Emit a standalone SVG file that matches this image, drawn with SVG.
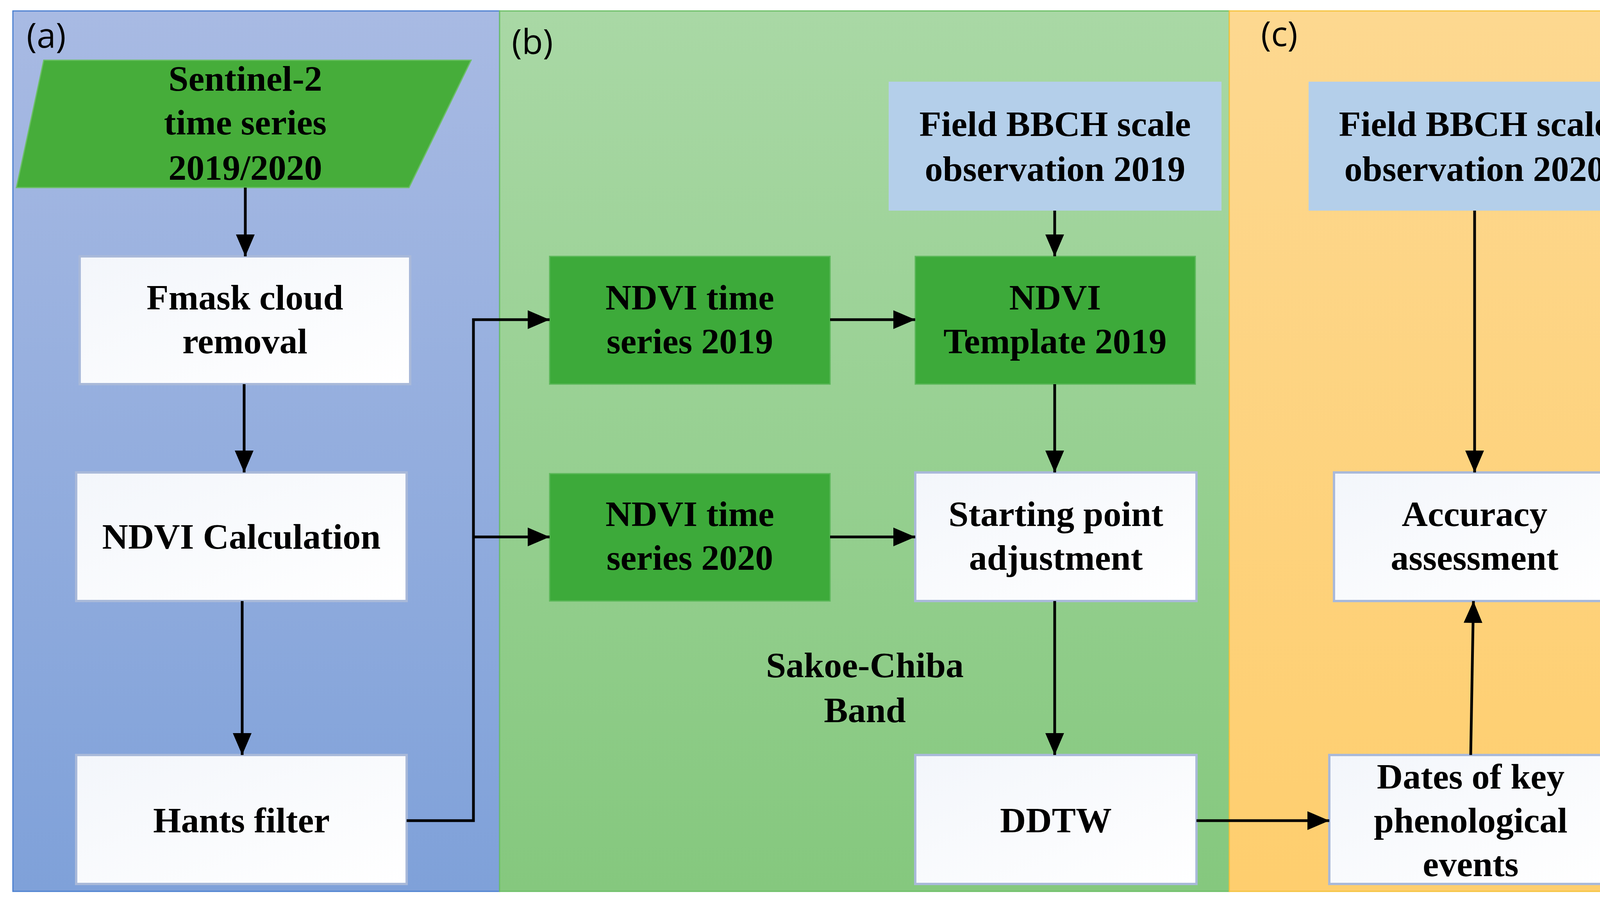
<svg xmlns="http://www.w3.org/2000/svg" width="4364" height="2321" viewBox="0 0 4364 2321">
<defs>
<linearGradient id="ga" x1="0" y1="0" x2="0" y2="1"><stop offset="0" stop-color="#a8bae3"/><stop offset="1" stop-color="#7fa1d9"/></linearGradient>
<linearGradient id="gb" x1="0" y1="0" x2="0" y2="1"><stop offset="0" stop-color="#a9d8a5"/><stop offset="1" stop-color="#85c87e"/></linearGradient>
<linearGradient id="gc" x1="0" y1="0" x2="0" y2="1"><stop offset="0" stop-color="#fdd890"/><stop offset="1" stop-color="#fece6e"/></linearGradient>
<linearGradient id="gw" x1="0" y1="0" x2="1" y2="1"><stop offset="0" stop-color="#f3f6fb"/><stop offset="1" stop-color="#ffffff"/></linearGradient>
<marker id="ah" markerUnits="userSpaceOnUse" markerWidth="60" markerHeight="48" refX="56" refY="24" orient="auto"><path d="M0,0 L56,24 L0,48 Z" fill="#000"/></marker>
</defs>
<style>
.t{font-family:"Liberation Serif",serif;font-weight:bold;font-size:92px;fill:#000;text-anchor:middle}
.p{font-family:"Open Sans","DejaVu Sans",sans-serif;font-size:88px;fill:#000}
.w{fill:url(#gw);stroke:#a9b9d9;stroke-width:6}
.g{fill:#3daa3a;stroke:#5cb85a;stroke-width:3}
.b{fill:#b4cfea}
.c{fill:none;stroke:#000;stroke-width:7;marker-end:url(#ah)}
</style>
<g id="panels">
<rect x="33" y="28" width="1246" height="2253" fill="url(#ga)" stroke="#4a7fd0" stroke-width="3"/>
<rect x="1279" y="28" width="1868" height="2253" fill="url(#gb)" stroke="#6cbf66" stroke-width="3"/>
<rect x="3147" y="28" width="1200" height="2253" fill="url(#gc)" stroke="#f5c23c" stroke-width="3"/>
<text class="p" x="68" y="122">(a)</text>
<text class="p" x="1310" y="138">(b)</text>
<text class="p" x="3228" y="118">(c)</text>
</g>
<g id="sentinel"><polygon points="112,154 1206,154 1047,480 42,480" fill="#46ad3a" stroke="#6cbf66" stroke-width="3"/>
<text class="t" x="628" y="232">Sentinel-2</text><text class="t" x="628" y="344">time series</text><text class="t" x="628" y="460">2019/2020</text></g>
<g id="fmask"><rect class="w" x="204" y="656" width="846" height="327"/><text class="t" x="627" y="792">Fmask cloud</text><text class="t" x="627" y="904">removal</text></g>
<g id="ndvicalc"><rect class="w" x="195" y="1209" width="846" height="329"/><text class="t" x="618" y="1404">NDVI Calculation</text></g>
<g id="hants"><rect class="w" x="195" y="1932" width="846" height="330"/><text class="t" x="618" y="2130">Hants filter</text></g>
<g id="ndvi2019"><rect class="g" x="1407" y="656" width="718" height="327"/><text class="t" x="1766" y="792">NDVI time</text><text class="t" x="1766" y="904">series 2019</text></g>
<g id="ndvi2020"><rect class="g" x="1407" y="1212" width="718" height="326"/><text class="t" x="1766" y="1346">NDVI time</text><text class="t" x="1766" y="1458">series 2020</text></g>
<g id="bbch2019"><rect class="b" x="2275" y="209" width="852" height="330"/><text class="t" x="2701" y="348">Field BBCH scale</text><text class="t" x="2701" y="463">observation 2019</text></g>
<g id="template"><rect class="g" x="2343" y="656" width="717" height="327"/><text class="t" x="2701" y="792">NDVI</text><text class="t" x="2701" y="904">Template 2019</text></g>
<g id="starting"><rect class="w" x="2343" y="1209" width="720" height="329"/><text class="t" x="2703" y="1346">Starting point</text><text class="t" x="2703" y="1458">adjustment</text></g>
<g id="ddtw"><rect class="w" x="2343" y="1932" width="720" height="330"/><text class="t" x="2703" y="2130">DDTW</text></g>
<g id="sakoe"><text class="t" x="2214" y="1733">Sakoe-Chiba</text><text class="t" x="2214" y="1848">Band</text></g>
<g id="bbch2020"><rect class="b" x="3350" y="209" width="849" height="330"/><text class="t" x="3775" y="348">Field BBCH scale</text><text class="t" x="3775" y="463">observation 2020</text></g>
<g id="accuracy"><rect class="w" x="3415" y="1209" width="720" height="329"/><text class="t" x="3775" y="1346">Accuracy</text><text class="t" x="3775" y="1458">assessment</text></g>
<g id="dates"><rect class="w" x="3403" y="1932" width="724" height="330"/><text class="t" x="3765" y="2018">Dates of key</text><text class="t" x="3765" y="2130">phenological</text><text class="t" x="3765" y="2242">events</text></g>
<g id="connectors">
<path class="c" d="M628,480 V656"/>
<path class="c" d="M625,983 V1209"/>
<path class="c" d="M620,1538 V1932"/>
<path class="c" d="M1041,2100 H1212 V818 H1407"/>
<path class="c" d="M1212,1374 H1407"/>
<path class="c" d="M2125,818 H2343"/>
<path class="c" d="M2700,539 V656"/>
<path class="c" d="M2700,983 V1209"/>
<path class="c" d="M2125,1374 H2343"/>
<path class="c" d="M2700,1538 V1932"/>
<path class="c" d="M3063,2100 H3403"/>
<path class="c" d="M3775,539 V1209"/>
<path class="c" d="M3765,1932 L3772,1538"/>
</g>
</svg>
